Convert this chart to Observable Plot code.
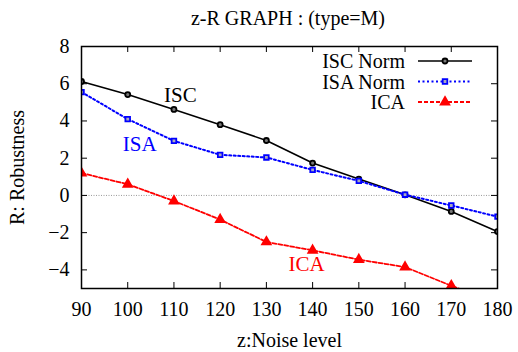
<!DOCTYPE html>
<html>
<head>
<meta charset="utf-8">
<script src="https://cdn.jsdelivr.net/npm/d3@7"></script>
<script src="https://cdn.jsdelivr.net/npm/@observablehq/plot@0.6"></script>
<style>
  html, body { margin: 0; padding: 0; background: #fff; }
  #chart { width: 518px; height: 352px; }
</style>
</head>
<body>
<div id="chart"></div>
<script>
const title = "z-R GRAPH : (type=M)";
const xLabel = "z:Noise level";
const yLabel = "R: Robustness";
const noise = [90, 100, 110, 120, 130, 140, 150, 160, 170, 180];
const iscNorm = [6.12, 5.42, 4.62, 3.8, 2.95, 1.74, 0.88, 0.03, -0.86, -1.94];
const isaNorm = [5.55, 4.1, 2.93, 2.18, 2.04, 1.37, 0.78, 0.04, -0.54, -1.14];
const ica = [1.2, 0.6, -0.3, -1.3, -2.5, -2.95, -3.45, -3.85, -4.85, -5.8];
const seriesNames = ["ISC Norm", "ISA Norm", "ICA"];
const xTicks = [90, 100, 110, 120, 130, 140, 150, 160, 170, 180];
const yTicks = [-4, -2, 0, 2, 4, 6, 8];
const annotations = [
  {text: "ISC", x: 111.4, y: 5.4, color: "#000000"},
  {text: "ISA", x: 102.6, y: 2.75, color: "#0000ff"},
  {text: "ICA", x: 138.7, y: -3.7, color: "#ff0000"}
];

const styles = [
  {color: "#000000", dash: null, width: 1.6, symbol: "circle"},
  {color: "#0000ff", dash: "2,2.5", width: 2, symbol: "square"},
  {color: "#ff0000", dash: "4,2", width: 1.8, symbol: "triangle"}
];
const allSeries = [iscNorm, isaNorm, ica];
const rows = allSeries.map((vals, i) => noise.map((x, j) => ({x, y: vals[j], s: seriesNames[i]})));

const W = 518, H = 352, mL = 81, mR = 21, mT = 46, mB = 64;
const fw = W - mL - mR, fh = H - mT - mB;
const FONT = "'Liberation Serif', 'Times New Roman', serif";
const FS = 20;

function markerR(sym) { return sym === "triangle" ? 3.2 : sym === "square" ? 2.6 : 2.5; }
function markerFill(st) { return st.symbol === "triangle" ? st.color : st.symbol === "square" ? "#aab" : "#777"; }

const marks = [
  Plot.ruleY([0], {stroke: "#999", strokeDasharray: "1,1.5", strokeWidth: 1}),
  Plot.tickX(xTicks, {x: d => d, insetTop: fh - 6, stroke: "#000", strokeWidth: 1}),
  Plot.tickX(xTicks, {x: d => d, insetBottom: fh - 6, stroke: "#000", strokeWidth: 1}),
  Plot.tickY(yTicks, {y: d => d, insetRight: fw - 6, stroke: "#000", strokeWidth: 1}),
  Plot.tickY(yTicks, {y: d => d, insetLeft: fw - 6, stroke: "#000", strokeWidth: 1}),
];
rows.forEach((data, i) => {
  const st = styles[i];
  marks.push(Plot.line(data, {x: "x", y: "y", stroke: st.color, strokeWidth: st.width, strokeDasharray: st.dash, clip: true}));
  marks.push(Plot.dot(data, {x: "x", y: "y", symbol: st.symbol, r: markerR(st.symbol), stroke: st.color, fill: markerFill(st), strokeWidth: 1.8, clip: true}));
});
marks.push(Plot.text(annotations, {x: "x", y: "y", text: "text", fill: "color", fontSize: 21, fontFamily: FONT}));
marks.push(Plot.frame({stroke: "#000", strokeWidth: 1.5}));
marks.push(Plot.axisX({ticks: xTicks, tickSize: 0, tickPadding: 13, fontSize: FS, fontFamily: FONT, label: xLabel, labelAnchor: "center", labelOffset: 58, labelArrow: "none"}));
marks.push(Plot.axisY({ticks: yTicks, tickSize: 0, tickPadding: 12, fontSize: FS, fontFamily: FONT, label: yLabel, labelAnchor: "center", labelOffset: 72, labelArrow: "none"}));

const chart = Plot.plot({
  width: W, height: H,
  marginLeft: mL, marginRight: mR, marginTop: mT, marginBottom: mB,
  style: {fontFamily: FONT, fontSize: FS + "px", color: "#000", background: "#fff"},
  x: {domain: [90, 180]},
  y: {domain: [-5, 8]},
  marks
});

// Title and legend
const svg = d3.select(chart);
svg.append("text")
  .attr("x", 288).attr("y", 25)
  .attr("text-anchor", "middle")
  .attr("font-family", FONT).attr("font-size", FS).attr("fill", "#000")
  .text(title);

const leg = svg.append("g");
seriesNames.forEach((name, i) => {
  const st = styles[i];
  const y = 61 + i * 20.5;
  leg.append("text").attr("x", 405).attr("y", y).attr("dy", "0.35em")
    .attr("text-anchor", "end").attr("font-family", FONT).attr("font-size", FS).attr("fill", "#000")
    .text(name);
  leg.append("line").attr("x1", 418).attr("x2", 472).attr("y1", y).attr("y2", y)
    .attr("stroke", st.color).attr("stroke-width", st.width)
    .attr("stroke-dasharray", st.dash);
  const sym = st.symbol === "circle" ? d3.symbolCircle : st.symbol === "square" ? d3.symbolSquare : d3.symbolTriangle;
  const r = markerR(st.symbol);
  leg.append("path").attr("d", d3.symbol(sym, Math.PI * r * r)())
    .attr("transform", `translate(445,${y})`)
    .attr("stroke", st.color).attr("stroke-width", 1.8)
    .attr("fill", markerFill(st));
});

document.getElementById("chart").appendChild(chart);
</script>
</body>
</html>
